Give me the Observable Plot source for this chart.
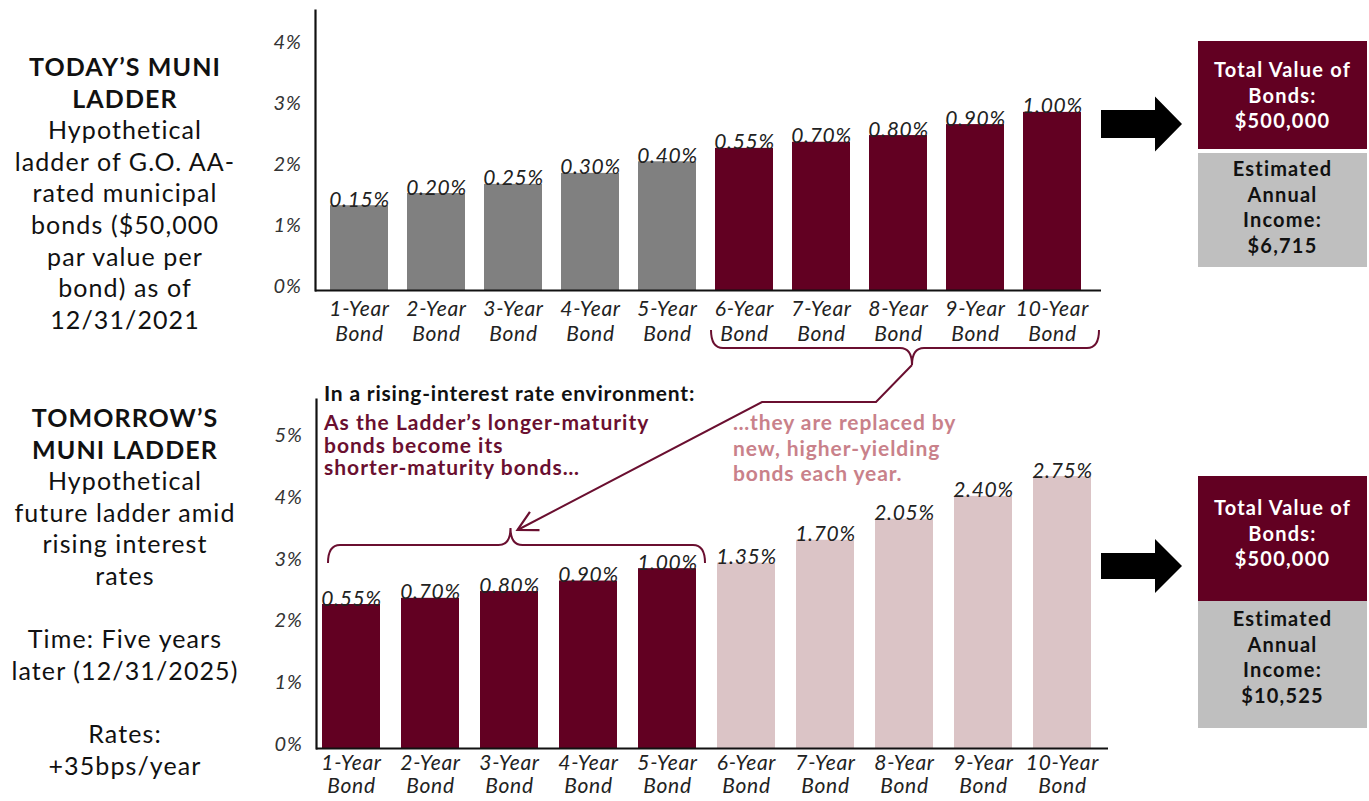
<!DOCTYPE html>
<html>
<head>
<meta charset="utf-8">
<script src="https://cdn.jsdelivr.net/npm/d3@7"></script>
<script src="https://cdn.jsdelivr.net/npm/@observablehq/plot@0.6"></script>
<style>
  html, body { margin: 0; padding: 0; background: #fff; }
  #page { position: relative; width: 1369px; height: 801px; overflow: hidden; font-family: Lato, "Open Sans", sans-serif; color: #111; }
  .abs { position: absolute; }
  .side { left: 0; width: 250px; text-align: center; font-size: 25px; letter-spacing: 1.1px; line-height: 31.6px; color: #111; white-space: nowrap; }
  .side b { font-weight: 700; }
  .box { left: 1198px; width: 169px; text-align: center; font-weight: 700; font-size: 20px; letter-spacing: 1.2px; line-height: 25.5px; box-sizing: border-box; white-space: nowrap; }
  .note { font-weight: 700; white-space: nowrap; }
  svg.overlay { position: absolute; left: 0; top: 0; pointer-events: none; }
</style>
</head>
<body>
<div id="page">
  <div class="abs side" style="top:51px;"><b>TODAY’S MUNI<br>LADDER</b><br>Hypothetical<br>ladder of G.O. AA-<br>rated municipal<br>bonds ($50,000<br>par value per<br>bond) as of<br>12/31/2021</div>
  <div class="abs side" style="top:402px;"><b>TOMORROW’S<br>MUNI LADDER</b><br>Hypothetical<br>future ladder amid<br>rising interest<br>rates<br><br>Time: Five years<br>later (12/31/2025)<br><br>Rates:<br>+35bps/year</div>

  <div class="abs box" style="top:41px;height:108px;background:#620022;color:#fff;padding-top:16px;">Total Value of<br>Bonds:<br>$500,000</div>
  <div class="abs box" style="top:153px;height:114px;background:#bfbfbf;color:#111;padding-top:3px;">Estimated<br>Annual<br>Income:<br>$6,715</div>
  <div class="abs box" style="top:476px;height:125px;background:#620022;color:#fff;padding-top:19px;">Total Value of<br>Bonds:<br>$500,000</div>
  <div class="abs box" style="top:601px;height:127px;background:#bfbfbf;color:#111;padding-top:5px;">Estimated<br>Annual<br>Income:<br>$10,525</div>

  <div class="abs note" style="left:324px;top:382px;font-size:21px;letter-spacing:0.8px;line-height:22px;color:#111;">In a rising-interest rate environment:</div>
  <div class="abs note" style="left:324px;top:411px;font-size:21px;letter-spacing:1px;line-height:22.5px;color:#6a0f30;">As the Ladder’s longer-maturity<br>bonds become its<br>shorter-maturity bonds…</div>
  <div class="abs note" style="left:733px;top:409px;font-size:21px;letter-spacing:0.9px;line-height:25.5px;color:#c9818a;">…they are replaced by<br>new, higher-yielding<br>bonds each year.</div>

  <div id="chartTop" class="abs" style="left:0;top:0;"></div>
  <div id="chartBottom" class="abs" style="left:0;top:380px;"></div>
</div>
<script>
// ---- data ----
const bonds = ["1-Year Bond", "2-Year Bond", "3-Year Bond", "4-Year Bond", "5-Year Bond",
               "6-Year Bond", "7-Year Bond", "8-Year Bond", "9-Year Bond", "10-Year Bond"];

// Today's ladder: bar heights as drawn (axis units, %) and printed yield labels
const todayHeights = [1.39, 1.59, 1.74, 1.92, 2.11, 2.33, 2.43, 2.54, 2.72, 2.92];
const todayLabels  = ["0.15%", "0.20%", "0.25%", "0.30%", "0.40%", "0.55%", "0.70%", "0.80%", "0.90%", "1.00%"];
const todayGroups  = ["short", "short", "short", "short", "short", "long", "long", "long", "long", "long"];

// Tomorrow's ladder
const tomorrowHeights = [2.33, 2.43, 2.54, 2.71, 2.91, 3.00, 3.37, 3.71, 4.08, 4.40];
const tomorrowLabels  = ["0.55%", "0.70%", "0.80%", "0.90%", "1.00%", "1.35%", "1.70%", "2.05%", "2.40%", "2.75%"];
const tomorrowGroups  = ["rolled", "rolled", "rolled", "rolled", "rolled", "new", "new", "new", "new", "new"];

const todayTicks = [0, 1, 2, 3, 4];
const tomorrowTicks = [0, 1, 2, 3, 4, 5];

const MAROON = "#620022";

function ladder({heights, labels, groups, colorDomain, colorRange, ticks, height, marginTop, marginBottom,
                 marginLeft, marginRight, yMax, paddingInner, paddingOuter, baselineExtend, xPad, xLine}) {
  const data = bonds.map((b, i) => ({bond: b, h: heights[i], label: labels[i], group: groups[i]}));
  return Plot.plot({
    width: 1369,
    height,
    marginTop, marginBottom, marginLeft, marginRight,
    x: {domain: bonds, paddingInner, paddingOuter, align: 0.5, label: null},
    y: {domain: [0, yMax], label: null},
    color: {domain: colorDomain, range: colorRange},
    style: {fontFamily: "Lato, 'Open Sans', sans-serif", fontStyle: "italic", letterSpacing: "0.7px", color: "#222", background: "transparent", overflow: "visible"},
    marks: [
      Plot.barY(data, {x: "bond", y: "h", fill: "group"}),
      Plot.text(data, {x: "bond", y: "h", text: "label", lineAnchor: "bottom", dy: 1, fontSize: 21, fill: "#222"}),
      Plot.axisY({ticks, tickSize: 0, tickPadding: 14, tickFormat: d => d + "%", fontSize: 20, dy: -4, label: null, fill: "#333"}),
      Plot.axisX({tickSize: 0, tickPadding: xPad, tickFormat: d => d.replace(" ", "\n"), fontSize: 21, lineHeight: xLine, label: null, fill: "#222"}),
      Plot.ruleY([0], {stroke: "#111", strokeWidth: 2.2, insetRight: -baselineExtend}),
      Plot.frame({anchor: "left", stroke: "#111", strokeWidth: 2.2})
    ]
  });
}

const topPlot = ladder({
  heights: todayHeights, labels: todayLabels, groups: todayGroups,
  colorDomain: ["short", "long"], colorRange: ["#808080", MAROON],
  ticks: todayTicks, height: 350, marginTop: 10, marginBottom: 60,
  marginLeft: 315, marginRight: 1369 - 1096, yMax: 280 / 61,
  paddingInner: 0.25, paddingOuter: 0.168, baselineExtend: 5, xPad: 8, xLine: 1.18
});
document.getElementById("chartTop").appendChild(topPlot);

const bottomPlot = ladder({
  heights: tomorrowHeights, labels: tomorrowLabels, groups: tomorrowGroups,
  colorDomain: ["rolled", "new"], colorRange: [MAROON, "#dbc4c6"],
  ticks: tomorrowTicks, height: 421, marginTop: 19, marginBottom: 53,
  marginLeft: 316, marginRight: 1369 - 1097, yMax: 349 / 61.8,
  paddingInner: 0.267, paddingOuter: 0.025, baselineExtend: 11, xPad: 5, xLine: 1.1
});
document.getElementById("chartBottom").appendChild(bottomPlot);

// ---- annotations (braces, connector arrow, block arrows), positioned from the charts' scales ----
const BOTTOM_TOP = 380;
const x1 = topPlot.scale("x"), y1 = topPlot.scale("y");
const x2 = bottomPlot.scale("x"), y2 = bottomPlot.scale("y");
const base1 = y1.apply(0);
const base2 = BOTTOM_TOP + y2.apply(0);

const svg = d3.select("#page").append("svg").attr("class", "overlay")
  .attr("width", 1369).attr("height", 801);

const ink = "#6a0f30";
function brace(xa, xb, xc, yEnd, yLine, yCusp, r) {
  return `M${xa},${yEnd} Q${xa},${yLine} ${xa + r},${yLine} L${xc - r},${yLine} Q${xc},${yLine} ${xc},${yCusp}` +
         ` Q${xc},${yLine} ${xc + r},${yLine} L${xb - r},${yLine} Q${xb},${yLine} ${xb},${yEnd}`;
}

// top brace under 6- to 10-year bonds
const tA = x1.apply("6-Year Bond") - 4;
const tB = x1.apply("10-Year Bond") + x1.bandwidth + 18;
const tC = (tA + tB) / 2 + 7;
svg.append("path").attr("d", brace(tA, tB, tC, base1 + 40, base1 + 58, base1 + 75, 12))
  .attr("fill", "none").attr("stroke", ink).attr("stroke-width", 2);

// bottom brace over 1- to 5-year bonds
const bA = x2.apply("1-Year Bond") + 6;
const bB = x2.apply("5-Year Bond") + x2.bandwidth + 9;
const bC = (bA + bB) / 2 - 6;
svg.append("path").attr("d", brace(bA, bB, bC, base2 - 185, base2 - 203, base2 - 220, 12))
  .attr("fill", "none").attr("stroke", ink).attr("stroke-width", 2);

// connector from top brace to bottom brace
const p0 = [tC, base1 + 75];
const p1 = [tC - 36, base1 + 112];
const p2 = [tC - 150, base1 + 112];
const tip = [bC + 7, base2 - 218];
svg.append("path").attr("d", `M${p0}L${p1}L${p2}L${tip}`)
  .attr("fill", "none").attr("stroke", ink).attr("stroke-width", 2).attr("stroke-linejoin", "miter");
{
  const dx = p2[0] - tip[0], dy = p2[1] - tip[1];
  const ang = Math.atan2(dy, dx), L = 22, a = 28 * Math.PI / 180;
  const e1 = [tip[0] + L * Math.cos(ang - a), tip[1] + L * Math.sin(ang - a)];
  const e2 = [tip[0] + L * Math.cos(ang + a), tip[1] + L * Math.sin(ang + a)];
  svg.append("path").attr("d", `M${e1}L${tip}L${e2}`)
    .attr("fill", "none").attr("stroke", ink).attr("stroke-width", 2.2).attr("stroke-linejoin", "miter");
}

// black block arrows pointing to the summary boxes
function blockArrow(xs, xh, xt, cy, shaftHalf, headHalf) {
  return `M${xs},${cy - shaftHalf} L${xh},${cy - shaftHalf} L${xh},${cy - headHalf} L${xt},${cy} L${xh},${cy + headHalf} L${xh},${cy + shaftHalf} L${xs},${cy + shaftHalf} Z`;
}
svg.append("path").attr("d", blockArrow(1101, 1155, 1182, 124, 14, 27.5)).attr("fill", "#000");
svg.append("path").attr("d", blockArrow(1101, 1155, 1182, 566, 13, 27)).attr("fill", "#000");
</script>
</body>
</html>
